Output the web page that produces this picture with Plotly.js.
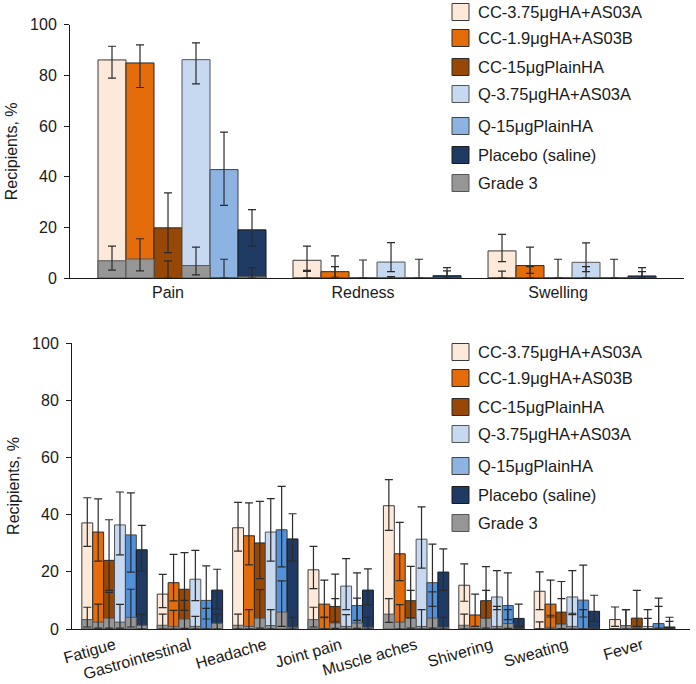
<!DOCTYPE html>
<html>
<head>
<meta charset="utf-8">
<script src="https://cdn.plot.ly/plotly-3.0.1.min.js"></script>
<style>
  html, body { margin: 0; padding: 0; background: #fff; }
  #chart { width: 696px; height: 684px; }
</style>
</head>
<body>
<div id="chart"></div>
<script>
// groups (same in both panels)
var groups = ['CC-3.75μgHA+AS03A', 'CC-1.9μgHA+AS03B', 'CC-15μgPlainHA',
              'Q-3.75μgHA+AS03A', 'Q-15μgPlainHA', 'Placebo (saline)'];
var gradeName = 'Grade 3';

// --- local reactions (top) ---
var localCats = ['Pain', 'Redness', 'Swelling'];
var localVal = [
  [86.1, 7.0, 10.7],
  [84.9, 2.5, 4.9],
  [19.8, 0, 0],
  [86.2, 6.3, 6.2],
  [42.8, 0, 0],
  [19.0, 0.9, 0.8]
];
var localHi = [
  [91.5, 12.6, 17.2],
  [92.0, 8.7, 12.2],
  [33.6, 7.1, 7.4],
  [92.8, 14.0, 13.9],
  [57.6, 7.4, 7.4],
  [27.0, 4.1, 4.1]
];
var localLo = [
  [78.9, 3.0, 6.5],
  [75.2, 0.3, 1.8],
  [10.0, 0, 0],
  [76.6, 2.5, 2.5],
  [28.7, 0, 0],
  [12.7, 0, 0]
];
var localG3 = [
  [6.8, 0, 0],
  [7.5, 0, 0],
  [0, 0, 0],
  [4.9, 0, 0],
  [0, 0, 0],
  [0.5, 0, 0]
];
var localG3Hi = [
  [12.6, 2.6, 2.7],
  [15.5, 4.5, 4.5],
  [6.8, 0, 0],
  [12.2, 0.6, 4.5],
  [7.4, 0, 0],
  [4.1, 2.8, 2.5]
];
var localG3Lo = [
  [3.1, 0, 0],
  [2.8, 0, 0],
  [0, 0, 0],
  [1.2, 0, 0],
  [0, 0, 0],
  [0, 0, 0]
];

// --- systemic events (bottom) ---
var sysCats = ['Fatigue', 'Gastrointestinal', 'Headache', 'Joint pain',
               'Muscle aches', 'Shivering', 'Sweating', 'Fever'];
var sysVal = [
  [37.1, 12.2, 35.4, 20.7, 43.1, 15.3, 13.2, 3.3],
  [33.9, 16.2, 32.6, 8.7, 26.3, 4.9, 8.7, 1.2],
  [24.0, 13.9, 30.1, 7.9, 9.9, 9.9, 5.9, 3.8],
  [36.4, 17.4, 33.9, 15.0, 31.4, 11.2, 11.2, 0.9],
  [32.9, 10.0, 34.7, 8.2, 16.2, 8.2, 10.1, 1.9],
  [27.7, 13.6, 31.5, 13.6, 19.9, 3.7, 6.2, 0.7]
];
var sysHi = [
  [45.9, 19.1, 44.3, 28.9, 52.2, 22.8, 20.0, 7.7],
  [45.5, 26.1, 44.1, 17.1, 37.3, 12.2, 17.1, 6.8],
  [38.2, 26.7, 44.6, 19.2, 21.9, 21.8, 16.6, 13.5],
  [47.9, 27.5, 45.6, 24.6, 42.7, 20.4, 20.4, 6.8],
  [47.6, 22.1, 49.9, 19.6, 29.7, 19.6, 22.3, 10.8],
  [36.2, 20.9, 40.3, 21.0, 28.0, 8.7, 11.8, 4.1]
];
var sysLo = [
  [28.9, 7.5, 27.2, 14.1, 34.5, 9.7, 6.8, 0.9],
  [23.7, 9.8, 22.4, 4.2, 16.9, 0.9, 4.2, 0],
  [13.5, 6.5, 17.6, 2.5, 4.0, 3.7, 1.7, 0.9],
  [25.9, 9.9, 23.7, 6.8, 21.3, 6.8, 5.0, 0],
  [19.9, 3.5, 21.7, 3.0, 7.9, 3.3, 4.2, 0.3],
  [20.2, 7.0, 23.8, 8.5, 13.5, 0.9, 2.7, 0]
];
var sysG3 = [
  [3.3, 1.3, 1.3, 3.3, 5.2, 1.3, 0, 0],
  [2.4, 0.8, 0.9, 0, 2.4, 0, 0.6, 1.2],
  [3.8, 3.5, 3.8, 2.1, 3.7, 3.7, 1.7, 0],
  [2.4, 0.9, 1.2, 0.9, 0.9, 0.9, 0.9, 0],
  [4.1, 0, 5.9, 2.1, 3.8, 1.9, 0, 0],
  [1.3, 2.0, 0.6, 0.6, 0.6, 0, 0, 0]
];
var sysG3Hi = [
  [7.6, 5.2, 5.2, 7.6, 10.6, 5.2, 2.5, 0],
  [8.7, 6.5, 6.8, 4.0, 8.5, 0, 4.8, 6.8],
  [12.8, 10.0, 13.8, 10.6, 13.5, 13.5, 10.6, 0],
  [8.6, 4.4, 6.8, 5.0, 6.8, 7.9, 5.5, 3.7],
  [13.9, 7.2, 16.8, 10.8, 13.0, 6.8, 6.8, 7.9],
  [5.1, 5.2, 4.1, 4.1, 4.1, 0, 0, 2.7]
];
var sysG3Lo = [
  [0.7, 0, 0, 0.7, 2.3, 0, 0, 0],
  [0.3, 0, 0, 0, 0, 0, 0, 0],
  [0.3, 0.2, 0.3, 0.2, 0.3, 0.3, 0.1, 0],
  [0.3, 0, 0, 0, 0, 0, 0, 0],
  [0.7, 0, 0.9, 0.2, 0.3, 0.2, 0, 0],
  [0, 0, 0, 0, 0, 0, 0, 0]
];

var yTicks = [0, 20, 40, 60, 80, 100];

// styling
var fills = ['#fde9d9', '#e46c0a', '#974806', '#c6d9f1', '#8db3e2', '#1f3b63'];
var sysFills = ['#fde9d9', '#e46c0a', '#974806', '#c6d9f1', '#5290da', '#1f3b63'];
var edges = ['#3a3a3a', '#2a2a2a', '#2a2a2a', '#555', '#444', '#1a1a1a'];
var gradeFill = '#969696';
var gradeEdge = '#555';
var FONT = 'Liberation Sans, Arial, Helvetica, sans-serif';

var W = 696, H = 684;
function px(x) { return x / W; }
function py(y) { return 1 - y / H; }

function diff(a, b) { return a.map(function (v, i) { return Math.max(0, v - b[i]); }); }

function errBar(hi, val, lo) {
  return {
    type: 'data', symmetric: false,
    array: diff(hi, val), arrayminus: diff(val, lo),
    color: '#2b2b2b', thickness: 1.2, width: 4
  };
}

function panel(cats, val, hi, lo, g3, g3hi, g3lo, colors, xa, ya, start, w) {
  var out = [];
  groups.forEach(function (g, k) {
    out.push({
      type: 'bar', name: g, x: cats, y: val[k], xaxis: xa, yaxis: ya,
      offset: start + k * w, width: w, showlegend: false,
      marker: { color: colors[k], line: { color: edges[k], width: 1 } },
      error_y: errBar(hi[k], val[k], lo[k]),
      hoverinfo: 'x+y+name'
    });
  });
  groups.forEach(function (g, k) {
    out.push({
      type: 'bar', name: gradeName, x: cats, y: g3[k], xaxis: xa, yaxis: ya,
      offset: start + k * w, width: w, showlegend: false,
      marker: { color: gradeFill, line: { color: gradeEdge, width: 1 } },
      error_y: errBar(g3hi[k], g3[k], g3lo[k]),
      hoverinfo: 'x+y+name'
    });
  });
  return out;
}

var data = []
  .concat(panel(localCats, localVal, localHi, localLo, localG3, localG3Hi, localG3Lo,
                fills, 'x', 'y', -0.359, 0.1436))
  .concat(panel(sysCats, sysVal, sysHi, sysLo, sysG3, sysG3Hi, sysG3Lo,
                sysFills, 'x2', 'y2', -0.4335, 0.1445));

// hand-drawn legends (one per panel)
var shapes = [], annotations = [];
var legendNames = groups.concat([gradeName]);
var legendFills = fills.concat([gradeFill]);
var legendEdges = edges.concat([gradeEdge]);
var rowY = [12, 38, 67, 94, 126, 155, 183];
[0, 340].forEach(function (dy) {
  legendNames.forEach(function (n, i) {
    var cy = rowY[i] + dy;
    shapes.push({
      type: 'rect', xref: 'paper', yref: 'paper',
      x0: px(452), x1: px(469), y0: py(cy + 8.5), y1: py(cy - 8.5),
      fillcolor: legendFills[i], line: { color: legendEdges[i], width: 1 }
    });
    annotations.push({
      xref: 'paper', yref: 'paper', x: px(476), y: py(cy),
      xanchor: 'left', yanchor: 'middle', showarrow: false, text: n,
      font: { size: 16.5, color: '#1a1a1a', family: FONT }
    });
  });
});

function yAxis(dom, anchor) {
  return {
    domain: dom, anchor: anchor, range: [0, 100], tickvals: yTicks,
    showline: true, linecolor: '#1a1a1a', linewidth: 1,
    ticks: 'outside', ticklen: 5, tickcolor: '#1a1a1a', ticklabelstandoff: 4,
    showgrid: false, zeroline: false, fixedrange: true,
    tickfont: { size: 16, color: '#1a1a1a' },
    title: { text: 'Recipients, %', font: { size: 16, color: '#1a1a1a' }, standoff: 8 }
  };
}

var layout = {
  width: W, height: H,
  margin: { l: 0, r: 0, t: 0, b: 0 },
  paper_bgcolor: '#fff', plot_bgcolor: 'rgba(0,0,0,0)',
  font: { family: FONT, size: 16, color: '#1a1a1a' },
  barmode: 'overlay', showlegend: false,
  xaxis: {
    domain: [px(70), px(684)], anchor: 'y', type: 'category',
    range: [-0.5026, 2.646], showline: true, linecolor: '#1a1a1a', linewidth: 1,
    ticks: '', showgrid: false, zeroline: false, fixedrange: true,
    tickfont: { size: 16, color: '#1a1a1a' }
  },
  yaxis: yAxis([py(278), py(24.7)], 'x'),
  xaxis2: {
    domain: [px(72), px(690)], anchor: 'y2', type: 'category',
    range: [-0.564, 7.633], showline: true, linecolor: '#1a1a1a', linewidth: 1,
    ticks: '', showgrid: false, zeroline: false, fixedrange: true, tickangle: -16,
    tickfont: { size: 16, color: '#1a1a1a' }
  },
  yaxis2: yAxis([py(629), py(343)], 'x2'),
  shapes: shapes,
  annotations: annotations
};

Plotly.newPlot('chart', data, layout, { displayModeBar: false, staticPlot: true });
</script>
</body>
</html>
